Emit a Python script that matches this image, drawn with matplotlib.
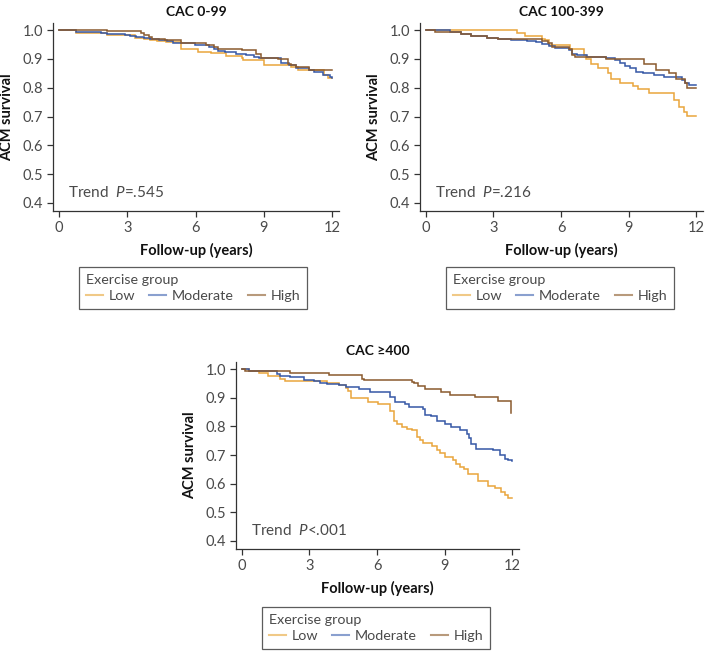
import matplotlib
matplotlib.use("Agg")
import matplotlib.pyplot as plt
from matplotlib.lines import Line2D

plt.rcParams['font.family'] = ['Lato', 'DejaVu Sans']
plt.rcParams['mathtext.fontset'] = 'custom'
plt.rcParams['mathtext.rm'] = 'Lato'
plt.rcParams['mathtext.it'] = 'Lato:italic'

# ---------------- data ----------------
panel_titles = ["CAC 0-99", "CAC 100-399", "CAC \u2265400"]
trend_texts = ["=.545", "=.216", "<.001"]
group_names = ["Low", "Moderate", "High"]
x_ticks = [0, 3, 6, 9, 12]
y_ticks = [0.4, 0.5, 0.6, 0.7, 0.8, 0.9, 1.0]

# CAC 0-99
p1_low_t = [0, 0.74, 2.03, 2.1, 2.69, 3.35, 3.72, 4.0, 4.31, 4.7, 5.38, 5.85, 6.1, 6.66, 7.32, 8.06, 8.1, 9.01, 10.2, 10.48, 11.66, 11.8, 12.0]
p1_low_s = [1.0, 0.992, 0.99, 0.985, 0.983, 0.973, 0.969, 0.966, 0.962, 0.960, 0.936, 0.934, 0.925, 0.921, 0.911, 0.905, 0.896, 0.878, 0.873, 0.861, 0.846, 0.834, 0.834]
p1_mod_t = [0, 0.74, 1.85, 2.1, 2.62, 2.91, 3.1, 3.4, 3.72, 4.01, 4.4, 4.75, 5.0, 5.41, 5.96, 6.59, 6.8, 7.0, 7.3, 7.76, 8.21, 8.57, 8.8, 9.75, 10.1, 10.4, 11.0, 11.2, 11.6, 11.9, 12.0]
p1_mod_s = [1.0, 0.994, 0.992, 0.988, 0.986, 0.983, 0.98, 0.976, 0.972, 0.968, 0.966, 0.963, 0.957, 0.954, 0.948, 0.942, 0.934, 0.927, 0.923, 0.919, 0.915, 0.907, 0.902, 0.887, 0.88, 0.869, 0.862, 0.855, 0.846, 0.838, 0.833]
p1_high_t = [0, 2.1, 3.62, 3.75, 3.94, 4.1, 4.68, 5.35, 6.44, 6.81, 7.0, 8.06, 8.65, 8.87, 9.6, 10.04, 10.2, 10.4, 11.0, 12.0]
p1_high_s = [1.0, 0.997, 0.99, 0.983, 0.977, 0.969, 0.966, 0.957, 0.948, 0.942, 0.934, 0.932, 0.919, 0.904, 0.900, 0.884, 0.878, 0.873, 0.861, 0.861]

# CAC 100-399
p2_low_t = [0, 4.06, 4.42, 5.16, 5.3, 5.45, 6.4, 7.0, 7.1, 7.35, 7.62, 8.09, 8.2, 8.6, 9.19, 9.41, 9.92, 11.02, 11.24, 11.45, 11.6, 12.0]
p2_low_s = [1.0, 0.992, 0.980, 0.971, 0.965, 0.948, 0.936, 0.915, 0.90, 0.884, 0.867, 0.85, 0.832, 0.815, 0.805, 0.795, 0.782, 0.757, 0.734, 0.716, 0.702, 0.702]
p2_mod_t = [0, 1.07, 1.58, 2.02, 2.7, 3.2, 3.78, 4.47, 4.9, 5.16, 5.45, 5.72, 6.35, 6.48, 6.7, 7.14, 8.0, 8.38, 8.6, 8.82, 9.04, 9.33, 9.63, 10.14, 10.58, 11.38, 11.5, 11.7, 12.0]
p2_mod_s = [1.0, 0.995, 0.988, 0.979, 0.973, 0.969, 0.966, 0.963, 0.958, 0.953, 0.946, 0.939, 0.93, 0.916, 0.913, 0.907, 0.904, 0.896, 0.886, 0.876, 0.867, 0.855, 0.85, 0.844, 0.838, 0.826, 0.818, 0.809, 0.809]
p2_high_t = [0, 0.41, 1.58, 2.02, 2.7, 3.2, 5.15, 5.4, 5.6, 6.36, 6.5, 6.6, 8.0, 9.7, 10.2, 10.8, 11.1, 11.5, 11.6, 12.0]
p2_high_s = [1.0, 0.995, 0.988, 0.979, 0.973, 0.969, 0.962, 0.954, 0.942, 0.934, 0.915, 0.907, 0.90, 0.884, 0.863, 0.85, 0.832, 0.815, 0.80, 0.80]

# CAC >=400
p3_low_t = [0, 0.3, 0.75, 1.17, 1.71, 1.9, 3.78, 4.3, 4.6, 4.73, 4.85, 5.62, 6.06, 6.58, 6.76, 6.88, 7.1, 7.35, 7.57, 7.76, 7.9, 8.05, 8.42, 8.64, 8.79, 9.0, 9.37, 9.5, 9.68, 9.85, 10.05, 10.49, 10.93, 11.22, 11.5, 11.67, 11.8, 12.0]
p3_low_s = [1.0, 0.994, 0.986, 0.975, 0.965, 0.958, 0.953, 0.945, 0.935, 0.925, 0.898, 0.885, 0.878, 0.855, 0.82, 0.81, 0.797, 0.791, 0.786, 0.763, 0.751, 0.742, 0.73, 0.719, 0.707, 0.693, 0.682, 0.67, 0.659, 0.65, 0.635, 0.61, 0.591, 0.585, 0.572, 0.56, 0.549, 0.549]
p3_mod_t = [0, 0.3, 1.56, 1.7, 2.15, 2.74, 3.19, 3.48, 3.78, 4.3, 4.6, 5.18, 5.69, 6.58, 6.8, 7.24, 7.4, 8.05, 8.12, 8.4, 8.64, 9.0, 9.27, 9.68, 9.97, 10.1, 10.19, 10.4, 11.15, 11.45, 11.67, 11.8, 12.0]
p3_mod_s = [1.0, 0.994, 0.983, 0.977, 0.974, 0.963, 0.957, 0.953, 0.947, 0.943, 0.938, 0.931, 0.921, 0.902, 0.884, 0.878, 0.867, 0.861, 0.841, 0.835, 0.82, 0.809, 0.797, 0.786, 0.774, 0.76, 0.74, 0.722, 0.716, 0.699, 0.688, 0.682, 0.68]
p3_high_t = [0, 0.15, 2.15, 3.85, 5.32, 5.4, 7.54, 7.65, 7.8, 8.12, 8.86, 9.23, 10.34, 11.35, 11.95]
p3_high_s = [1.0, 0.995, 0.986, 0.979, 0.965, 0.962, 0.954, 0.95, 0.942, 0.931, 0.919, 0.91, 0.902, 0.888, 0.846]

panels = [
    [(p1_low_t, p1_low_s), (p1_mod_t, p1_mod_s), (p1_high_t, p1_high_s)],
    [(p2_low_t, p2_low_s), (p2_mod_t, p2_mod_s), (p2_high_t, p2_high_s)],
    [(p3_low_t, p3_low_s), (p3_mod_t, p3_mod_s), (p3_high_t, p3_high_s)],
]

colors = ["#E9A53C", "#3557A6", "#8A5A2E"]
legend_colors = ["#F0C987", "#8AA0CF", "#B89A7C"]

W, H = 706, 655
fig = plt.figure(figsize=(W / 100, H / 100), dpi=100)

def px_axes(left, top, right, bottom):
    return fig.add_axes([left / W, 1 - bottom / H, (right - left) / W, (bottom - top) / H])

axes_px = [(53, 23, 339, 211), (420, 23, 703, 211), (236, 362, 519, 549)]
legend_px = [(79, 267), (446, 267), (262, 607)]

tick_gray = "#4a4a4a"
for i, ax_px in enumerate(axes_px):
    ax = px_axes(*ax_px)
    for (t, s), c in zip(panels[i], colors):
        ax.plot(t, s, drawstyle='steps-post', color=c, lw=1.1, solid_joinstyle='miter')
    ax.set_xlim(-0.26, 12.3)
    ax.set_ylim(0.372, 1.025)
    ax.set_xticks(x_ticks)
    ax.set_yticks(y_ticks)
    ax.set_yticklabels([f"{v:.1f}" for v in y_ticks])
    for sp in ['top', 'right']:
        ax.spines[sp].set_visible(False)
    for sp in ['left', 'bottom']:
        ax.spines[sp].set_color('#333333')
        ax.spines[sp].set_linewidth(0.9)
    ax.tick_params(direction='out', length=4, width=0.9, color='#333333',
                   labelsize=10.5, labelcolor=tick_gray, pad=3)
    ax.set_title(panel_titles[i], fontsize=10, fontweight='bold', pad=5, color='#111111')
    ax.set_ylabel("ACM survival", fontsize=10.5, fontweight='bold', color='#111111', labelpad=6)
    ax.set_xlabel("Follow-up (years)", fontsize=10.5, fontweight='bold', color='#111111', labelpad=6)
    ax.text(0.4, 0.435, "Trend  $P$" + trend_texts[i], fontsize=11, color=tick_gray,
            va='center', ha='left')

    handles = [Line2D([], [], color=c, lw=1.5) for c in legend_colors]
    lx, ly = legend_px[i]
    leg = fig.legend(handles, group_names, title="Exercise group", ncol=3,
                     loc='upper left', bbox_to_anchor=(lx / W, 1 - ly / H),
                     frameon=True, fancybox=False, edgecolor='#333333',
                     fontsize=10.3, title_fontsize=10.3, alignment='left',
                     handlelength=1.2, handletextpad=0.4, columnspacing=0.95,
                     borderpad=0.5, labelspacing=0.25, borderaxespad=0)
    leg.get_frame().set_linewidth(0.9)
    for txt in leg.get_texts():
        txt.set_color(tick_gray)
    leg.get_title().set_color(tick_gray)

fig.savefig("out.png", dpi=100)
